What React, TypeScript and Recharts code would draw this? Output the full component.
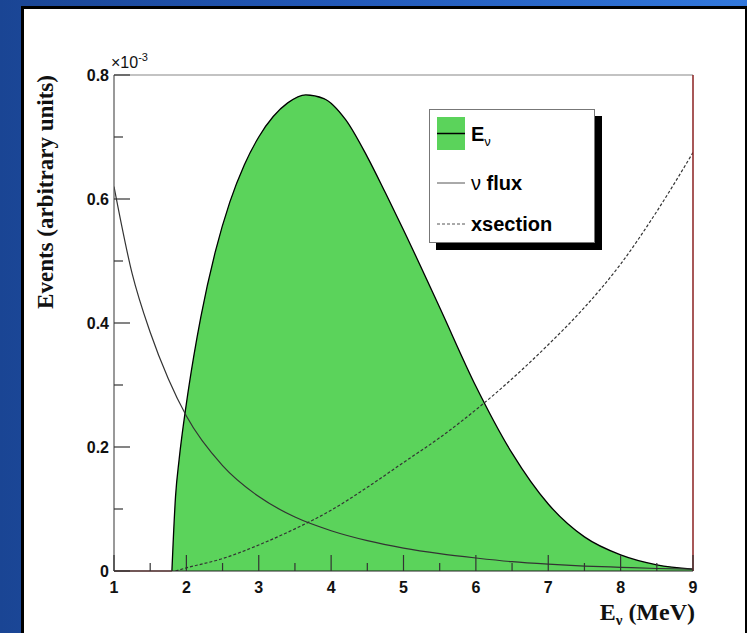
import {
  ComposedChart,
  Area,
  Line,
  XAxis,
  YAxis,
  ReferenceLine,
  Legend,
} from 'recharts'

// neutrino energy spectrum, flux and cross section (units of 1e-3)
const spectrumE = [1.8, 1.85, 1.9, 2, 2.1, 2.2, 2.4, 2.6, 2.8, 3, 3.2, 3.4, 3.65, 3.9, 4.2, 4.5, 4.75, 5, 5.5, 6, 6.5, 7, 7.5, 8, 8.5, 9]
const spectrumVals = [0, 0.12, 0.18, 0.27, 0.345, 0.41, 0.515, 0.595, 0.655, 0.7, 0.733, 0.755, 0.768, 0.762, 0.728, 0.668, 0.61, 0.55, 0.425, 0.298, 0.19, 0.108, 0.055, 0.026, 0.01, 0.003]

const fluxE = [1, 1.25, 1.5, 1.75, 2, 2.5, 3, 3.5, 4, 4.5, 5, 5.5, 6, 6.5, 7, 7.5, 8, 8.5, 9]
const fluxVals = [0.62, 0.48, 0.385, 0.31, 0.25, 0.17, 0.12, 0.087, 0.065, 0.049, 0.037, 0.028, 0.021, 0.015, 0.011, 0.008, 0.006, 0.004, 0.003]

const xsecE = [1.85, 2, 2.5, 3, 3.5, 4, 4.5, 5, 5.5, 6, 6.5, 7, 7.5, 8, 8.5, 9]
const xsecVals = [0, 0.005, 0.02, 0.042, 0.068, 0.098, 0.135, 0.175, 0.215, 0.26, 0.31, 0.365, 0.425, 0.495, 0.58, 0.675]

const xTicks = [1, 1.5, 2, 2.5, 3, 3.5, 4, 4.5, 5, 5.5, 6, 6.5, 7, 7.5, 8, 8.5, 9]
const yTicks = [0, 0.1, 0.2, 0.3, 0.4, 0.5, 0.6, 0.7, 0.8]

// merge the three series on one energy axis
const energies = Array.from(new Set([...spectrumE, ...fluxE, ...xsecE])).sort((a, b) => a - b)
const table = energies.map((x) => {
  const row: any = { x }
  const i = spectrumE.indexOf(x)
  const j = fluxE.indexOf(x)
  const k = xsecE.indexOf(x)
  if (i >= 0) row.spectrum = spectrumVals[i]
  if (j >= 0) row.flux = fluxVals[j]
  if (k >= 0) row.xsec = xsecVals[k]
  return row
})

const GREEN = '#5bd35b'
const FRAME_RED = '#8b2020'
const TICK_COLOR = '#333'
const SANS = '"Liberation Sans", Arial, sans-serif'
const SERIF = '"Liberation Serif", "Times New Roman", serif'

const XTick = ({ x, y, payload }: any) => {
  const v = payload.value
  const major = Number.isInteger(v)
  return (
    <g>
      <line x1={x} x2={x} y1={y} y2={y - (major ? 16 : 8)} stroke={TICK_COLOR} strokeWidth={1.2} />
      {major && (
        <text x={x} y={y + 22} textAnchor="middle" fontFamily={SANS} fontWeight="bold" fontSize={16} fill="#111">
          {String(v)}
        </text>
      )}
    </g>
  )
}

const YTick = ({ x, y, payload }: any) => {
  const v = payload.value
  const major = Math.round(v * 10) % 2 === 0
  return (
    <g>
      <line x1={x} x2={x + (major ? 16 : 9)} y1={y} y2={y} stroke={TICK_COLOR} strokeWidth={1.2} />
      {major && (
        <text x={x - 5} y={y + 6} textAnchor="end" fontFamily={SANS} fontWeight="bold" fontSize={16} fill="#111">
          {String(v)}
        </text>
      )}
    </g>
  )
}

const LegendBox = () => (
  <div
    style={{
      position: 'relative',
      width: 166,
      height: 134,
      background: '#fff',
      border: '1px solid #777',
      boxSizing: 'border-box',
      boxShadow: '7px 7px 0 #000',
    }}
  >
    <svg width={166} height={134} style={{ position: 'absolute', left: 0, top: 0 }}>
      <rect x={7} y={7} width={28} height={33} fill={GREEN} />
      <line x1={7} x2={35} y1={23.5} y2={23.5} stroke="#000" strokeWidth={1.5} />
      <text x={41} y={31} fontFamily={SANS} fontWeight="bold" fontSize={20} fill="#000">
        E<tspan fontSize={13} fontWeight="normal" dy={5}>ν</tspan>
      </text>
      <line x1={7} x2={35} y1={73} y2={73} stroke="#555" strokeWidth={1} />
      <text x={41} y={80} fontFamily={SANS} fontSize={20} fill="#000">
        ν <tspan fontWeight="bold">flux</tspan>
      </text>
      <line x1={7} x2={35} y1={114} y2={114} stroke="#555" strokeWidth={1} strokeDasharray="3 2" />
      <text x={41} y={121} fontFamily={SANS} fontWeight="bold" fontSize={20} fill="#000">
        xsection
      </text>
    </svg>
  </div>
)

export default function App() {
  return (
    <div
      style={{
        position: 'absolute',
        left: 0,
        top: 0,
        width: 747,
        height: 633,
        overflow: 'hidden',
        background: 'linear-gradient(to right, #1a4594 0%, #2258b8 45%, #3278dc 100%)',
      }}
    >
      <div style={{ position: 'absolute', left: 21, top: 6, width: 726, height: 627, background: '#000' }} />
      <div style={{ position: 'absolute', left: 24, top: 9, width: 721, height: 624, background: '#fff' }} />
      <div style={{ position: 'absolute', left: 0, top: 0 }}>
        <ComposedChart
          width={747}
          height={633}
          data={table}
          margin={{ top: 75, right: 54, bottom: 0, left: 0 }}
        >
          <XAxis
            dataKey="x"
            type="number"
            domain={[1, 9]}
            ticks={xTicks}
            interval={0}
            height={62}
            tickSize={0}
            tickMargin={0}
            tick={<XTick />}
            axisLine={{ stroke: '#222', strokeWidth: 1.2 }}
            allowDataOverflow
          />
          <YAxis
            type="number"
            domain={[0, 0.8]}
            ticks={yTicks}
            interval={0}
            width={114}
            tickSize={0}
            tickMargin={0}
            tick={<YTick />}
            axisLine={{ stroke: '#555', strokeWidth: 1.2 }}
            allowDataOverflow
          />
          <ReferenceLine y={0.8} stroke="#888" strokeWidth={1.2} />
          <Area
            dataKey="spectrum"
            type="monotone"
            fill={GREEN}
            fillOpacity={1}
            stroke="#000"
            strokeWidth={1.3}
            baseValue={0}
            connectNulls
            dot={false}
            activeDot={false}
            isAnimationActive={false}
          />
          <Line
            dataKey="flux"
            type="monotone"
            stroke="#333"
            strokeWidth={1.2}
            dot={false}
            activeDot={false}
            connectNulls
            isAnimationActive={false}
          />
          <Line
            dataKey="xsec"
            type="monotone"
            stroke="#333"
            strokeWidth={1.2}
            strokeDasharray="3 2"
            dot={false}
            activeDot={false}
            connectNulls
            isAnimationActive={false}
          />
          <ReferenceLine
            segment={[
              { x: 1, y: 0 },
              { x: 1.8, y: 0 },
            ]}
            stroke={FRAME_RED}
            strokeWidth={1.2}
          />
          <ReferenceLine x={9} stroke={FRAME_RED} strokeWidth={1.5} />
          <Legend
            layout="vertical"
            align="center"
            verticalAlign="middle"
            content={<LegendBox />}
            wrapperStyle={{ left: 429, top: 109, width: 166, height: 134 }}
          />
        </ComposedChart>
      </div>
      <svg width={747} height={633} style={{ position: 'absolute', left: 0, top: 0, pointerEvents: 'none' }}>
        <text
          x={45}
          y={192}
          transform="rotate(-90 45 192)"
          textAnchor="middle"
          dominantBaseline="central"
          fontFamily={SERIF}
          fontWeight="bold"
          fontSize={23}
          fill="#111"
        >
          Events (arbitrary units)
        </text>
        <text x={695} y={620} textAnchor="end" fontFamily={SERIF} fontWeight="bold" fontSize={24} fill="#111">
          E<tspan fontSize={15} dy={5}>ν</tspan>
          <tspan dy={-5}> (MeV)</tspan>
        </text>
        <text x={111} y={68} fontFamily={SANS} fontSize={16} fill="#111">
          ×10<tspan fontSize={11} dy={-7}>-3</tspan>
        </text>
      </svg>
    </div>
  )
}
